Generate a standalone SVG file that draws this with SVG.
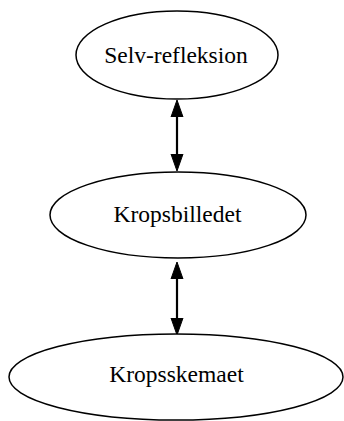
<svg xmlns="http://www.w3.org/2000/svg" width="344" height="421" viewBox="0 0 344 421">
<style>
.node ellipse{fill:#fff;stroke:#000;stroke-width:1.5}
.node text{font-family:"Liberation Serif","Times New Roman",serif;font-size:23.5px;text-anchor:middle;fill:#000}
.edge path{fill:none;stroke:#000;stroke-width:2.2}
</style>
<defs>
<marker id="ah" markerUnits="userSpaceOnUse" markerWidth="20" markerHeight="14" viewBox="0 -7 20 14" refX="0" refY="0" orient="auto-start-reverse">
<path d="M0,-6 L17,0 L0,6 Z" fill="#000" stroke="#000" stroke-width="1"/>
</marker>
</defs>
<g id="connectors" class="edge">
<path d="M177,117 L177,154" marker-start="url(#ah)" marker-end="url(#ah)"/>
<path d="M177,279 L177,318" marker-start="url(#ah)" marker-end="url(#ah)"/>
</g>
<g id="node-selv" class="node">
<ellipse cx="177" cy="55" rx="101" ry="44"/>
<text x="176" y="63">Selv-refleksion</text>
</g>
<g id="node-kropsbilledet" class="node">
<ellipse cx="178" cy="215" rx="128" ry="43"/>
<text x="177.5" y="222">Kropsbilledet</text>
</g>
<g id="node-kropsskemaet" class="node">
<ellipse cx="176" cy="377" rx="167" ry="43"/>
<text x="176.5" y="382">Kropsskemaet</text>
</g>
</svg>
